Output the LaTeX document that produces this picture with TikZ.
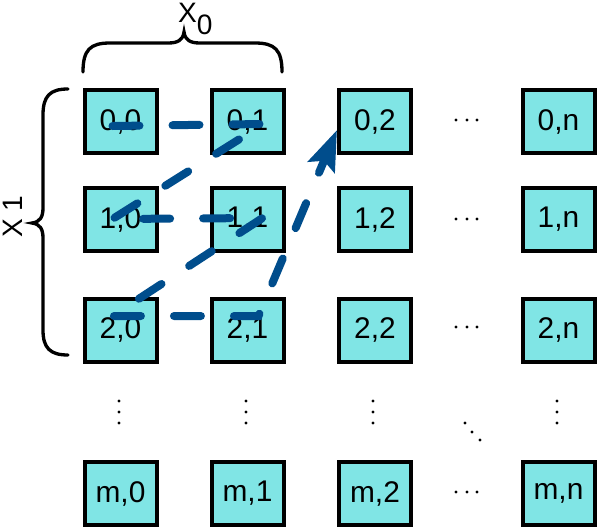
\documentclass[tikz,border=0pt]{standalone}
\usepackage{fontspec}
\setmainfont{Liberation Sans}
\usetikzlibrary{arrows.meta}
\definecolor{cellfill}{RGB}{128,229,229}
\definecolor{walkblue}{RGB}{0,77,140}

\begin{document}
\begin{tikzpicture}[x=0.03cm,y=-0.03cm,
        cell/.style={draw,line width=0.12cm,fill=cellfill,inner sep=0pt,
                     minimum width=2.16cm,minimum height=1.89cm,
                     font=\fontsize{25.5}{30}\selectfont},
        walk/.style={draw=walkblue,line width=0.24cm,line cap=round,
                     dash pattern=on 0.81cm off 0.99cm,
                     -{Stealth[length=1.2cm,width=0.85cm,inset=0.2cm]}},
        brace/.style={line width=0.1cm,line cap=round},
        axis label/.style={inner sep=0pt,font=\fontsize{24}{28}\selectfont}]
        \useasboundingbox (0,0) rectangle (598,530);

        \node[cell] at (120.5,121.5) (n00) {0,0};
        \node[cell] at (247.5,121.5) (n01) {0,1};
        \node[cell] at (375,121.5) (n02) {0,2};
        \node[cell] at (558.5,121.5) (n0n) {0,n};

        \node[cell] at (120.5,219.5) (n10) {1,0};
        \node[cell] at (247.5,219.5) (n11) {1,1};
        \node[cell] at (375,219.5) (n12) {1,2};
        \node[cell] at (558.5,219.5) (n1n) {1,n};

        \node[cell] at (120.5,330) (n20) {2,0};
        \node[cell] at (247.5,330) (n21) {2,1};
        \node[cell] at (375,330) (n22) {2,2};
        \node[cell] at (558.5,330) (n2n) {2,n};

        \node[cell] at (120.5,493.5) (nm0) {m,0};
        \node[cell] at (247.5,493.5) (nm1) {m,1};
        \node[cell] at (375,493.5) (nm2) {m,2};
        \node[cell] at (558.5,493.5) (nmn) {m,n};

        % dots between the cells
        \foreach \x in {119,246,373,557}
            \foreach \y in {401,412,423}
                \fill (\x,\y) circle (0.05cm);
        \foreach \y in {120,219,327,492}
            \foreach \x in {456,467,477}
                \fill (\x,\y) circle (0.05cm);
        \fill (465,423) circle (0.05cm) (472,432) circle (0.05cm) (480,440) circle (0.05cm);

        % braces and their labels
        \draw[brace] (83,72) .. controls (83,50) and (90,43) .. (110,43) -- (168,43)
                     .. controls (178,43) and (183,40) .. (184,32)
                     .. controls (185,40) and (190,43) .. (200,43) -- (255,43)
                     .. controls (275,43) and (282,50) .. (282,72);
        \draw[brace] (68,89) .. controls (50,89) and (43,96) .. (43,115) -- (43,208)
                     .. controls (43,217) and (40,222) .. (32,223)
                     .. controls (40,224) and (43,229) .. (43,238) -- (43,330)
                     .. controls (43,348) and (50,355) .. (68,355);
        \node[axis label,anchor=base west] at (178,22) (xzero) {X\raisebox{-11pt}{0}};
        \node[axis label,anchor=base west,rotate=90] at (23,238) (xone) {X 1};

        % traversal order
        \draw[walk] ([shift={(-8,4.5)}]n00.center) -- ([shift={(16,2.5)}]n01.center)
                 -- ([shift={(-8,-0.5)}]n10.center) -- ([shift={(15,-1.5)}]n11.center)
                 -- ([shift={(-8,-14)}]n20.center) -- ([shift={(11,-14)}]n21.center)
                 -- ([shift={(0,8.5)}]n02.west);
    \end{tikzpicture}
\end{document}
